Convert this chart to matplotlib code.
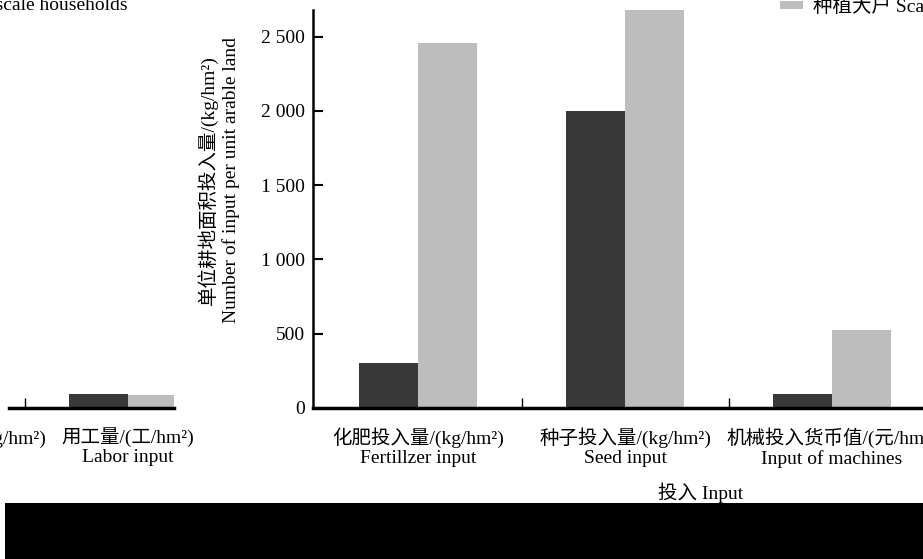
import matplotlib
matplotlib.use("Agg")
import matplotlib.pyplot as plt
import numpy as np
from matplotlib.patches import Rectangle
from matplotlib.ticker import FixedLocator, FuncFormatter

# ---------------- DATA ----------------
left_cats = ["农药及农膜总投入量/(kg/hm²)\nPesticide input", "用工量/(工/hm²)\nLabor input"]
left_small = [0, 94]
left_large = [0, 90]

main_cats = ["化肥投入量/(kg/hm²)\nFertillzer input",
             "种子投入量/(kg/hm²)\nSeed input",
             "机械投入货币值/(元/hm²)\nInput of machines"]
small_hh = [303, 2000, 94]
large_hh = [2460, 2700, 526]

label_small = "小农户 Small-scale households"
label_large = "种植大户 Scale households"
# ---------------------------------------

plt.rcParams['font.family'] = ['Liberation Serif', 'Noto Sans CJK SC']
plt.rcParams['font.size'] = 14

DARK = "#383838"
GREY = "#bdbdbd"
W = 0.285
W_PX, H_PX = 923, 559

fig = plt.figure(figsize=(W_PX / 100, H_PX / 100), dpi=100)

bottom = 1 - 408 / H_PX
height = 398 / H_PX

# ---- main panel ----
ax = fig.add_axes([313 / W_PX, bottom, (946 - 313) / W_PX, height])
x = np.arange(len(main_cats))
b1 = ax.bar(x - W / 2, small_hh, W, color=DARK)
b2 = ax.bar(x + W / 2, large_hh, W, color=GREY)
ax.set_xlim(-0.507, 2.55)
ax.set_ylim(0, 2680)
ax.set_xticks(x)
ax.set_xticklabels(main_cats, linespacing=1.17)
ax.xaxis.set_minor_locator(FixedLocator([0.5, 1.5, 2.5]))
ax.set_yticks([0, 500, 1000, 1500, 2000, 2500])
ax.yaxis.set_major_formatter(FuncFormatter(lambda v, p: f"{int(v):,}".replace(",", " ")))
ax.tick_params(axis='x', which='major', length=0, pad=14)
ax.tick_params(axis='x', which='minor', direction='in', length=7, width=1)
ax.tick_params(axis='y', direction='in', length=7, width=1.5, pad=6)
for s in ['top', 'right']:
    ax.spines[s].set_visible(False)
ax.spines['left'].set_linewidth(1.8)
ax.spines['bottom'].set_linewidth(2.5)
ax.set_ylabel("单位耕地面积投入量/(kg/hm²)\nNumber of input per unit arable land", linespacing=1.3)
ax.yaxis.set_label_coords(-0.115, 0.573)
ax.set_xlabel("投入 Input")
ax.xaxis.set_label_coords((701 - 313) / (946 - 313), -0.188)
ax.legend([b2], [label_large], loc='lower left', bbox_to_anchor=(780 / W_PX, 1 - 16 / H_PX),
          bbox_transform=fig.transFigure, frameon=False, borderpad=0, borderaxespad=0,
          handlelength=1.2, handleheight=0.3, handletextpad=0.5)

# ---- left (cut off) panel ----
axl = fig.add_axes([-203 / W_PX, bottom, 377 / W_PX, height])
xl = np.arange(len(left_cats)) - 1
c1 = axl.bar(xl - W / 2, left_small, W, color=DARK)
c2 = axl.bar(xl + W / 2, left_large, W, color=GREY)
axl.set_xlim(-1.6, 0.222)
axl.set_ylim(0, 2680)
axl.set_xticks(xl)
axl.set_xticklabels(left_cats, linespacing=1.17)
axl.xaxis.set_minor_locator(FixedLocator([-1.5, -0.5]))
axl.tick_params(axis='x', which='major', length=0, pad=14)
axl.tick_params(axis='x', which='minor', direction='in', length=7, width=1)
axl.set_yticks([])
for s in ['top', 'right', 'left']:
    axl.spines[s].set_visible(False)
axl.spines['bottom'].set_linewidth(2.5)
axl.spines['bottom'].set_bounds(-0.575, 0.222)
axl.legend([c1], [label_small], loc='lower right', bbox_to_anchor=(128 / W_PX, 1 - 14 / H_PX),
           bbox_transform=fig.transFigure, frameon=False, borderpad=0, borderaxespad=0,
           handlelength=1.2, handleheight=0.3, handletextpad=0.5)

# ---- scan band at the bottom ----
fig.add_artist(Rectangle((5 / W_PX, 0), 1, 1 - 503 / H_PX, transform=fig.transFigure,
                         facecolor='black', edgecolor='none'))

fig.savefig("out.png", dpi=100)
